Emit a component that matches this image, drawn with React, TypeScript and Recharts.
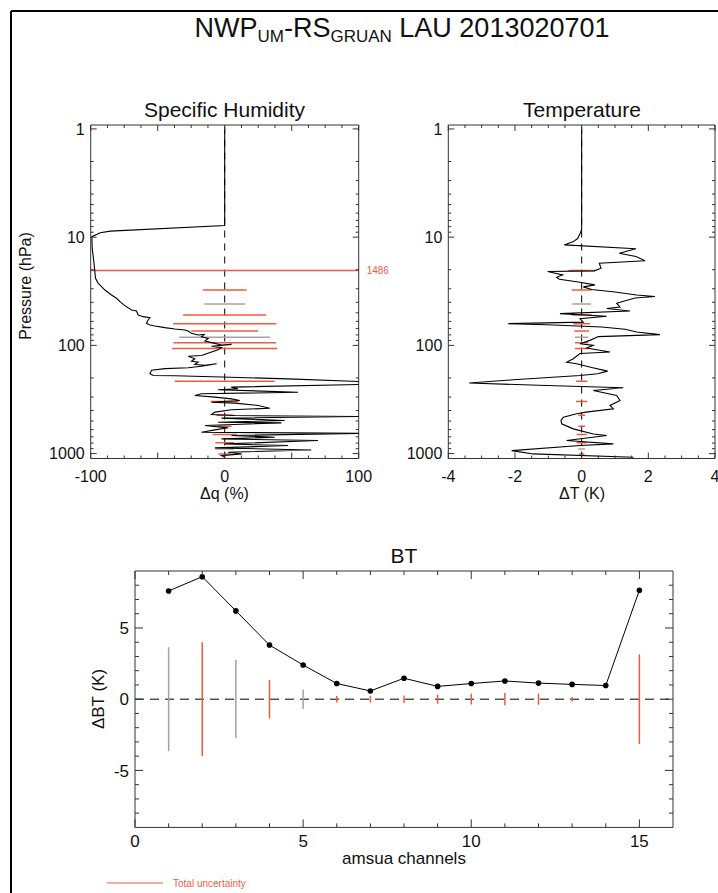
import React from 'react';
import { ScatterChart, Scatter, XAxis, YAxis, ReferenceLine } from 'recharts';

const FONT = '"Liberation Sans", Arial, Helvetica, sans-serif';
const RED = '#ef5b3f';
const GRAY = '#ab9f9f';
const AXIS = '#333333';

// ---- Specific humidity profile: pressure (hPa) and Δq (%)
const humPressure = [1, 7.8, 8.8, 9.1, 9.9, 12.6, 18, 24, 26.7, 28.6, 30.8, 34.2, 36.7, 39.4, 42.9, 47.1, 48.1, 52.4, 54.3, 55.4, 58.3, 62.6, 64.9, 66.3, 68.6, 70.6, 72.1, 74, 77.4, 80.3, 79.1, 83.1, 86.2, 91.2, 95.8, 99.3, 97.9, 102, 105, 110, 115, 124, 126, 133, 140, 143, 150, 153, 148, 156, 161, 164, 170, 183, 190, 191, 196, 204, 225, 243, 252, 257, 271, 280, 291, 301, 312, 323, 335, 342, 359, 381, 394, 414, 435, 445, 454, 470, 494, 513, 520, 550, 578, 604, 635, 649, 681, 706, 731, 758, 814, 843, 886, 925, 973, 1007, 1044, 1082];
const humDelta = [0, 0, -85.4, -92.9, -99.1, -98.9, -97.4, -96.4, -94.4, -91.9, -89.4, -84.5, -80.7, -78.2, -74.5, -69.5, -65.8, -64.6, -60.8, -55.8, -57.1, -58.4, -55.8, -52.1, -44.6, -37.2, -29.7, -27, -24.8, -19.8, -14.8, -17.3, -12.3, -14.8, -7.3, -2.4, 5.1, -9.8, -2.4, -4.9, -9.8, -17.3, -27.2, -22.3, -24.8, -19.8, -22.3, -14.8, -6.1, -17.3, -27.2, -44.6, -54.6, -55.8, -53.3, -37.1, -2.4, 47.3, 140, 4.9, 9.9, -4.9, 54.7, -17.3, -22.3, -7.3, 5.1, 11.3, -9.8, 7.6, 25.0, 33.7, 5.1, -7.3, -9.8, 7.6, 105, -2.4, 44.8, -4.9, 42.3, -14.8, 2.6, -7.3, -17.3, 105, 5.1, 37.3, -2.4, 69.6, 0.1, 47.3, -7.3, 64.6, 2.6, 12.6, -2.4, 0.1];

// ---- Temperature profile: pressure (hPa) and ΔT (K)
const tempPressure = [1, 8.5, 9.3, 10.3, 11.0, 11.8, 12.8, 14.1, 15.1, 16.5, 17.4, 19.4, 20.5, 20.8, 22.3, 23.5, 24.5, 26, 27.6, 28.8, 30.5, 32.1, 34.2, 35.3, 36.5, 40.8, 44.2, 45.7, 48.1, 50.9, 53.9, 56.6, 61, 63, 64.5, 67.6, 71, 75.3, 79.6, 83, 89.9, 96.6, 100, 106, 115, 119, 133, 143, 148, 160, 173, 183, 190, 208, 223, 235, 246, 261, 290, 323, 359, 385, 414, 429, 461, 494, 531, 591, 658, 681, 758, 814, 843, 938, 1007, 1082];
const tempDelta = [0, 0, -0.05, -0.12, -0.25, -0.52, 1.63, 1.13, 1.63, 1.9, 0.53, 0.58, 0.38, -1.02, -0.57, -0.75, -0.67, -0.1, 0.4, 0.05, 0.3, 1.0, 1.65, 2.2, 1.6, 1.05, 1.15, 0.75, 1.45, -0.65, 0.75, -0.05, 0.05, -2.2, -1.05, 0.6, 1.3, 1.65, 2.35, 0.5, 0.25, -0.05, 0.35, 0.15, 0.85, -0.05, -0.25, -0.45, -0.15, 0.3, 0.78, 0.48, -0.05, -2.05, -3.37, -1.05, 1.25, 0.35, 1.05, 1.15, 0.85, 0.95, 0.13, -0.15, -0.55, -0.62, -0.6, -0.25, 0.35, 0.75, -0.45, 0.95, -0.05, -2.1, -1.45, 1.55];

// ---- Uncertainty bars at the profile levels
const errLevels = [20.3, 30.8, 41.5, 52.4, 63.0, 73.8, 84.3, 94.4, 107, 215, 330, 442, 559, 667, 796, 906, 1007];
const errKind = ['r', 'r', 'g', 'r', 'r', 'r', 'g', 'r', 'r', 'r', 'r', 'r', 'r', 'r', 'r', 'g', 'r'];
const humErr = [1486, 16.4, 15.2, 31, 38.5, 25, 34, 38.3, 39.2, 37.3, 10.5, 6, 5, 9, 7, 7, 4.8];
const tempErr = [0.4, 0.3, 0.28, 0.3, 0.25, 0.22, 0.2, 0.2, 0.2, 0.17, 0.17, 0.1, 0.1, 0.15, 0.15, 0.1, 0.08];

// ---- BT panel
const channels = [1, 2, 3, 4, 5, 6, 7, 8, 9, 10, 11, 12, 13, 14, 15];
const btDiff = [7.6, 8.6, 6.2, 3.8, 2.4, 1.1, 0.58, 1.47, 0.9, 1.1, 1.28, 1.13, 1.04, 0.96, 7.65];
const btUnc = [3.65, 4.0, 2.75, 1.35, 0.68, 0.23, 0.23, 0.26, 0.32, 0.38, 0.43, 0.39, 0.16, 0, 3.15];
const btKind = ['g', 'r', 'g', 'r', 'g', 'r', 'r', 'r', 'r', 'r', 'r', 'r', 'r', 'g', 'r'];

// ---- Ticks
const pressureTicks = [1, 2, 3, 4, 5, 6, 7, 8, 9, 10, 20, 30, 40, 50, 60, 70, 80, 90, 100, 200, 300, 400, 500, 600, 700, 800, 900, 1000];
const pressureMajor = [1, 10, 100, 1000];
const humTicks = [-100, -87.5, -75, -62.5, -50, -37.5, -25, -12.5, 0, 12.5, 25, 37.5, 50, 62.5, 75, 87.5, 100];
const humMajor = [-100, -50, 0, 50, 100];
const humLabels = [-100, 0, 100];
const tempTicks = [-4, -3.5, -3, -2.5, -2, -1.5, -1, -0.5, 0, 0.5, 1, 1.5, 2, 2.5, 3, 3.5, 4];
const tempMajor = [-4, -2, 0, 2, 4];
const chTicks = [0, 1, 2, 3, 4, 5, 6, 7, 8, 9, 10, 11, 12, 13, 14, 15];
const chMajor = [0, 5, 10, 15];
const btTicks = [-8, -7, -6, -5, -4, -3, -2, -1, 0, 1, 2, 3, 4, 5, 6, 7, 8];
const btMajor = [-5, 0, 5];

const humData = humPressure.map((p, i) => ({ p, q: humDelta[i] }));
const tempData = tempPressure.map((p, i) => ({ p, t: tempDelta[i] }));
const btData = channels.map((ch, i) => ({ ch, bt: btDiff[i] }));

type Side = 'left' | 'right' | 'top' | 'bottom';
const has = (arr: number[], v: number) => arr.some((m) => Math.abs(m - v) < 1e-6);

const mkTick = (side: Side, majors: number[], labeled: number[], fs: number, majLen: number, minLen: number, gap: number) =>
  (props: any) => {
    const { x, y, payload } = props;
    const v = payload.value;
    const len = has(majors, v) ? majLen : minLen;
    const show = has(labeled, v);
    let x2 = x, y2 = y;
    if (side === 'left') x2 = x + len;
    else if (side === 'right') x2 = x - len;
    else if (side === 'bottom') y2 = y - len;
    else y2 = y + len;
    return (
      <g>
        <line x1={x} y1={y} x2={x2} y2={y2} stroke={AXIS} strokeWidth={1} />
        {show && side === 'left' && (
          <text x={x - gap} y={y} dy="0.36em" textAnchor="end" fontSize={fs} fontFamily={FONT} fill="#111">{String(v)}</text>
        )}
        {show && side === 'bottom' && (
          <text x={x} y={y + gap} textAnchor="middle" fontSize={fs} fontFamily={FONT} fill="#111">{String(v)}</text>
        )}
      </g>
    );
  };

const noShape = () => <g />;
const dotShape = (props: any) => <circle cx={props.cx} cy={props.cy} r={2.8} fill="#000" />;

const axisCommon = { tickSize: 0, tickMargin: 0, tickLine: false, interval: 0 as const, stroke: AXIS, allowDataOverflow: true, type: 'number' as const };

function ProfilePanel(props: {
  data: any[]; key2: string; domain: [number, number]; ticks: number[]; majors: number[]; labels: number[];
  errs: number[]; left: number; width: number; margin: any;
}) {
  const { data, key2, domain, ticks, majors, labels, errs, left, width, margin } = props;
  const overflow = errLevels.map((lv, i) => ({ lv, e: errs[i] })).filter((d) => d.e > domain[1]);
  return (
    <div style={{ position: 'absolute', left, top: 100 }}>
      <ScatterChart width={width} height={400} margin={margin}>
        <XAxis xAxisId="b" dataKey={key2} orientation="bottom" domain={domain} ticks={ticks} height={30}
          tick={mkTick('bottom', majors, labels, 16, 6, 3, 23)} {...axisCommon} />
        <XAxis xAxisId="t" dataKey={key2} orientation="top" domain={domain} ticks={ticks} height={1}
          tick={mkTick('top', majors, [], 16, 6, 3, 0)} {...axisCommon} />
        <YAxis yAxisId="l" dataKey="p" scale="log" reversed domain={[0.92, 1110]} ticks={pressureTicks} width={50}
          tick={mkTick('left', pressureMajor, pressureMajor, 16, 6, 3, 6)} {...axisCommon} />
        <YAxis yAxisId="r" dataKey="p" orientation="right" scale="log" reversed domain={[0.92, 1110]} ticks={pressureTicks} width={1}
          tick={mkTick('right', pressureMajor, [], 16, 6, 3, 0)} {...axisCommon} />
        <ReferenceLine xAxisId="b" yAxisId="l" x={0} stroke="#000" strokeWidth={1} strokeDasharray="7 6" />
        {errLevels.map((lv, i) => (
          <ReferenceLine key={'e' + i} xAxisId="b" yAxisId="l" ifOverflow="hidden"
            segment={[{ x: -errs[i], y: lv }, { x: errs[i], y: lv }]}
            stroke={errKind[i] === 'r' ? RED : GRAY} strokeWidth={1.5} />
        ))}
        {overflow.map((d, i) => (
          <ReferenceLine key={'o' + i} xAxisId="b" yAxisId="l" y={d.lv} stroke="none"
            label={{ value: String(d.e), position: 'right', fill: RED, fontSize: 10, fontFamily: FONT, offset: 8 }} />
        ))}
        <Scatter xAxisId="t" yAxisId="r" data={data} shape={noShape} isAnimationActive={false} />
        <Scatter xAxisId="b" yAxisId="l" data={data} line={{ stroke: '#000', strokeWidth: 1.1 }} lineType="joint"
          shape={noShape} isAnimationActive={false} />
      </ScatterChart>
    </div>
  );
}

function BTPanel() {
  return (
    <div style={{ position: 'absolute', left: 60, top: 530 }}>
      <ScatterChart width={658} height={363} margin={{ top: 40, right: 44, bottom: 35.6, left: 25 }}>
        <XAxis xAxisId="b" dataKey="ch" orientation="bottom" domain={[0, 16]} ticks={chTicks} height={30}
          tick={mkTick('bottom', chMajor, chMajor, 17, 8, 4, 20)} {...axisCommon} />
        <XAxis xAxisId="t" dataKey="ch" orientation="top" domain={[0, 16]} ticks={chTicks} height={1}
          tick={mkTick('top', chMajor, [], 17, 8, 4, 0)} {...axisCommon} />
        <YAxis yAxisId="l" dataKey="bt" domain={[-9, 9]} ticks={btTicks} width={50}
          tick={mkTick('left', btMajor, btMajor, 17, 8, 4, 6)} {...axisCommon} />
        <YAxis yAxisId="r" dataKey="bt" orientation="right" domain={[-9, 9]} ticks={btTicks} width={1}
          tick={mkTick('right', btMajor, [], 17, 8, 4, 0)} {...axisCommon} />
        <ReferenceLine xAxisId="b" yAxisId="l" y={0} stroke="#555" strokeWidth={1.4} strokeDasharray="9 6" />
        {channels.filter((c, i) => btUnc[i] > 0).map((c) => {
          const i = channels.indexOf(c);
          return (
            <ReferenceLine key={'u' + c} xAxisId="b" yAxisId="l"
              segment={[{ x: c, y: -btUnc[i] }, { x: c, y: btUnc[i] }]}
              stroke={btKind[i] === 'r' ? RED : GRAY} strokeWidth={1.5} />
          );
        })}
        <Scatter xAxisId="t" yAxisId="r" data={btData} shape={noShape} isAnimationActive={false} />
        <Scatter xAxisId="b" yAxisId="l" data={btData} line={{ stroke: '#000', strokeWidth: 1 }} lineType="joint"
          shape={dotShape} isAnimationActive={false} />
      </ScatterChart>
    </div>
  );
}

export default function App() {
  const txt = { fontFamily: FONT, fill: '#111' };
  return (
    <div style={{ position: 'absolute', left: 0, top: 0, width: 718, height: 893, background: '#fff', overflow: 'hidden' }}>
      <ProfilePanel data={humData} key2="q" domain={[-100, 100]} ticks={humTicks} majors={humMajor} labels={humLabels}
        errs={humErr} left={0} width={400} margin={{ top: 24, right: 40.3, bottom: 11.5, left: 40.7 }} />
      <ProfilePanel data={tempData} key2="t" domain={[-4, 4]} ticks={tempTicks} majors={tempMajor} labels={tempMajor}
        errs={tempErr} left={370} width={348} margin={{ top: 24, right: 2, bottom: 11.5, left: 28.3 }} />
      <BTPanel />
      <svg width={718} height={893} style={{ position: 'absolute', left: 0, top: 0, pointerEvents: 'none' }}>
        <line x1={11} y1={11} x2={718} y2={11} stroke="#000" strokeWidth={2} />
        <line x1={11} y1={11} x2={11} y2={893} stroke="#000" strokeWidth={2} />
        <text x={402} y={37} textAnchor="middle" fontSize={27} {...txt}>
          NWP<tspan fontSize={17} dy={5}>UM</tspan><tspan dy={-5}>-RS</tspan><tspan fontSize={17} dy={5}>GRUAN</tspan><tspan dy={-5}> LAU 2013020701</tspan>
        </text>
        <text x={224.5} y={117} textAnchor="middle" fontSize={21} {...txt}>Specific Humidity</text>
        <text x={582} y={117} textAnchor="middle" fontSize={21} {...txt}>Temperature</text>
        <text x={0} y={0} transform="translate(31,286) rotate(-90)" textAnchor="middle" fontSize={16} {...txt}>Pressure (hPa)</text>
        <text x={224.5} y={499} textAnchor="middle" fontSize={16} {...txt}>Δq (%)</text>
        <text x={582} y={499} textAnchor="middle" fontSize={16} {...txt}>ΔT (K)</text>
        <text x={404} y={563} textAnchor="middle" fontSize={21} {...txt}>BT</text>
        <text x={0} y={0} transform="translate(104,699) rotate(-90)" textAnchor="middle" fontSize={17} {...txt}>ΔBT (K)</text>
        <text x={404} y={864} textAnchor="middle" fontSize={17} {...txt}>amsua channels</text>
        <line x1={107} y1={883} x2={163} y2={883} stroke={RED} strokeWidth={1.2} />
        <text x={173} y={887} fontSize={10} fontFamily={FONT} fill={RED}>Total uncertainty</text>
      </svg>
    </div>
  );
}
